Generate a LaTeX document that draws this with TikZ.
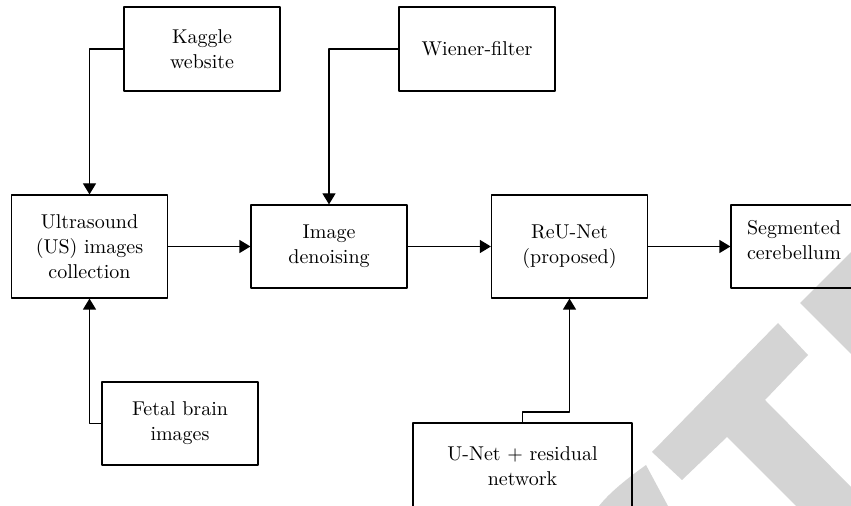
\documentclass[tikz,border=0pt]{standalone}
\usetikzlibrary{arrows.meta}
\begin{document}
\begin{tikzpicture}[x=0.5pt,y=-0.5pt,line join=round,line width=0.6pt,
		font=\fontsize{10}{12.5}\selectfont,
		box/.style={draw,align=center,inner sep=2pt,minimum width=78pt,minimum height=41.5pt},
		arr/.style={-{Triangle[length=5.5pt,width=6.5pt]}}]
			\useasboundingbox (0,0) rectangle (851,506);
			% watermark
			\fill[black!17] (778,323)--(808,355)--(765,400)--(851,487)--(851,506)--(796,506)--(727,437)--(682,480)--(652,452)--cycle;
			\fill[black!17] (800,303)--(851,252)--(851,354)--cycle;
			\fill[black!17] (646,465) .. controls (628,478) and (610,492) .. (599,506)--(668,506)--cycle;
			% blocks
			\node[box,minimum height=42pt] (kaggle) at (202,49) {Kaggle\\website};
			\node[box,minimum height=42pt] (wiener) at (477,49) {Wiener-filter};
			\node[box,minimum height=51.5pt] (us) at (89.5,246.5) {Ultrasound\\(US) images\\collection};
			\node[box] (denoise) at (329,246.5) {Image\\denoising};
			\node[box,minimum height=51.5pt] (reu) at (569.5,246.5) {ReU-Net\\(proposed)};
			\node[box,minimum width=63pt,text depth=7pt] (seg) at (794,246.5) {Segmented\\cerebellum};
			\node[box] (fetal) at (180,423.5) {Fetal brain\\images};
			\node[box,minimum width=109.5pt,minimum height=43pt] (unet) at (522.5,466) {U-Net + residual\\network};
			\coordinate (bend) at (522.5,412);
			% links
			\draw[arr] (kaggle.west) -| (us.north);
			\draw[arr] (wiener.west) -| (denoise.north);
			\draw[arr] (fetal.west) -| (us.south);
			\foreach \a/\b in {us/denoise,denoise/reu,reu/seg}{
				\draw[arr] (\a) -- (\b);
			}
			\draw[arr] (unet.north) -- (bend) -| (reu.south);
		\end{tikzpicture}
\end{document}
